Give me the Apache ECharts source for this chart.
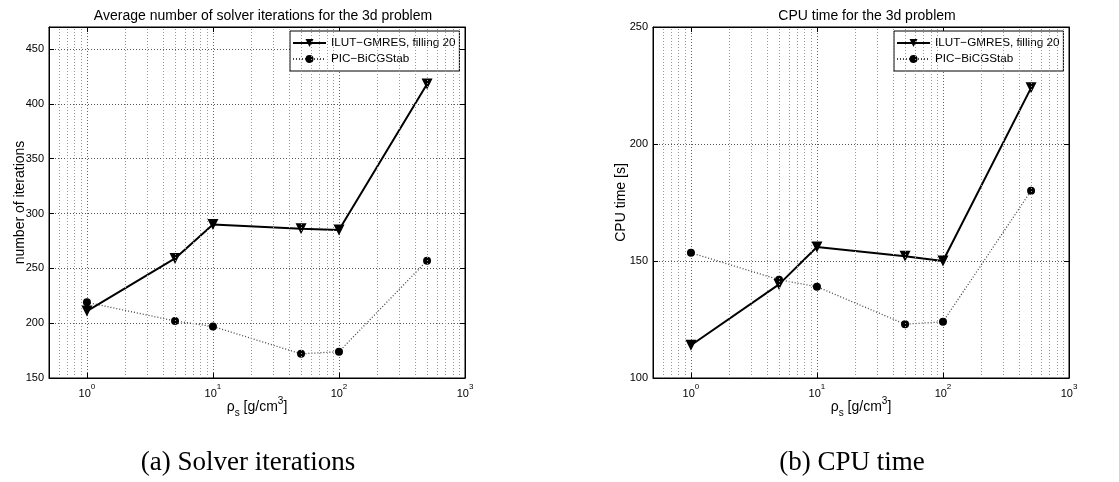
<!DOCTYPE html>
<html>
<head>
<meta charset="utf-8">
<script src="https://cdn.jsdelivr.net/npm/echarts@6/dist/echarts.min.js"></script>
<style>
  html, body { margin: 0; padding: 0; background: #fff; }
  #chart { width: 1119px; height: 482px; }
</style>
</head>
<body>
<div id="chart"></div>
<script>
// Density values rho_s [g/cm^3]
const densities = [1, 5, 10, 50, 100, 500];

// Average number of solver iterations
const iterIlut = [211, 259, 290, 286, 285, 418];
const iterPic = [219, 202, 197, 172, 174, 257];

// CPU time in seconds
const cpuIlut = [114, 140, 156, 152, 150, 224];
const cpuPic = [153.5, 142, 139, 123, 124, 180];

// Intermediate log grid lines (2..9 of each decade)
const minorGridX = [0.6, 0.7, 0.8, 0.9,
  2, 3, 4, 5, 6, 7, 8, 9,
  20, 30, 40, 50, 60, 70, 80, 90,
  200, 300, 400, 500, 600, 700, 800, 900];

const seriesNames = ['ILUT\u2212GMRES, filling 20', 'PIC\u2212BiCGStab'];
const titles = ['Average number of solver iterations for the 3d problem', 'CPU time for the 3d problem'];
const yNames = ['number of iterations', 'CPU time [s]'];
const captions = ['(a) Solver iterations', '(b) CPU time'];

const FONT = '"Liberation Sans", Arial, Helvetica, sans-serif';
const SERIF = '"Liberation Serif", "Times New Roman", serif';

const panels = [
  { left: 49, width: 416, yMin: 150, yMax: 470, yStep: 50, ilut: iterIlut, pic: iterPic, nameGap: 22 },
  { left: 653, width: 416, yMin: 100, yMax: 250, yStep: 50, ilut: cpuIlut, pic: cpuPic, nameGap: 25 }
];
const TOP = 27, HEIGHT = 351;

function pairs(xs, ys) { return xs.map((x, i) => [x, ys[i]]); }

function isDecade(v) {
  const e = Math.log10(v);
  return Math.abs(e - Math.round(e)) < 1e-9;
}

const grids = [], xAxes = [], yAxes = [], series = [], legends = [], titleList = [], graphics = [];

panels.forEach((p, i) => {
  grids.push({
    left: p.left, top: TOP, width: p.width, height: HEIGHT,
    show: true, borderColor: '#000', borderWidth: 1, backgroundColor: '#fff'
  });

  const baseX = {
    type: 'log', logBase: 10, min: 0.5, max: 1000, gridIndex: i,
    axisLine: { show: true, lineStyle: { color: '#000', width: 1 } },
    axisTick: { show: true, inside: true, length: 5, lineStyle: { color: '#000' } },
    splitLine: { show: false }
  };
  // bottom axis with labels and decade grid lines
  xAxes.push(Object.assign({}, baseX, {
    position: 'bottom',
    splitLine: { show: true, lineStyle: { color: '#666', type: [1, 2], width: 1 } },
    axisLabel: {
      margin: 5,
      formatter: v => isDecade(v) ? '{b|10}{s|' + Math.round(Math.log10(v)) + '}' : '',
      rich: {
        b: { fontSize: 11, fontFamily: FONT, color: '#000', lineHeight: 16, verticalAlign: 'bottom' },
        s: { fontSize: 8, fontFamily: FONT, color: '#000', lineHeight: 16, verticalAlign: 'top' }
      }
    },
    name: '{a|\u03c1}{sub|s}{a| [g/cm}{sup|3}{a|]}',
    nameLocation: 'middle', nameGap: 18, nameMoveOverlap: false,
    nameTextStyle: {
      rich: {
        a: { fontSize: 14, fontFamily: FONT, color: '#000', lineHeight: 22 },
        sub: { fontSize: 10, fontFamily: FONT, color: '#000', lineHeight: 13, verticalAlign: 'bottom' },
        sup: { fontSize: 10, fontFamily: FONT, color: '#000', lineHeight: 13, verticalAlign: 'top' }
      }
    }
  }));
  // top mirror axis for tick marks
  xAxes.push(Object.assign({}, baseX, { position: 'top', axisLabel: { show: false } }));

  const baseY = {
    type: 'value', min: p.yMin, max: p.yMax, interval: p.yStep, gridIndex: i,
    axisLine: { show: true, lineStyle: { color: '#000', width: 1 } },
    axisTick: { show: true, inside: true, length: 5, lineStyle: { color: '#000' } },
    splitLine: { show: false }
  };
  yAxes.push(Object.assign({}, baseY, {
    position: 'left',
    splitLine: { show: true, lineStyle: { color: '#555', type: [1, 2], width: 1 } },
    axisLabel: {
      margin: 5, fontSize: 11, fontFamily: FONT, color: '#000',
      formatter: v => (v % p.yStep === 0 ? String(v) : '')
    },
    name: yNames[i], nameLocation: 'middle', nameGap: p.nameGap, nameMoveOverlap: false,
    nameTextStyle: { fontSize: 14, fontFamily: FONT, color: '#000' }
  }));
  yAxes.push(Object.assign({}, baseY, { position: 'right', axisLabel: { show: false } }));

  const xb = i * 2, yl = i * 2;

  // intermediate vertical grid lines of the log scale
  series.push({
    type: 'line', xAxisIndex: xb, yAxisIndex: yl, data: [], z: 1, silent: true,
    markLine: {
      silent: true, symbol: 'none', animation: false,
      label: { show: false },
      lineStyle: { color: '#999', type: [1, 2], width: 1 },
      data: minorGridX.map(v => ({ xAxis: v }))
    }
  });

  series.push({
    name: seriesNames[0], type: 'line', xAxisIndex: xb, yAxisIndex: yl, z: 4,
    data: pairs(densities, p.ilut),
    symbol: 'triangle', symbolRotate: 180, symbolSize: 11, showAllSymbol: true,
    lineStyle: { color: '#000', width: 2, type: 'solid' },
    itemStyle: { color: '#000' },
    animation: false
  });
  series.push({
    name: seriesNames[1], type: 'line', xAxisIndex: xb, yAxisIndex: yl, z: 3,
    data: pairs(densities, p.pic),
    symbol: 'circle', symbolSize: 8, showAllSymbol: true,
    lineStyle: { color: '#444', width: 1.3, type: [1, 2] },
    itemStyle: { color: '#000' },
    animation: false
  });

  legends.push({
    data: seriesNames.map(n => ({ name: n })),
    orient: 'vertical', left: p.left + 241, top: 31,
    backgroundColor: '#fff', borderColor: '#000', borderWidth: 1, borderRadius: 0,
    padding: [6, 4, 6, 2],
    itemWidth: 33, itemHeight: 10, itemGap: 4,
    textStyle: { fontSize: 11.7, fontFamily: FONT, color: '#000' },
    selectedMode: false
  });

  titleList.push({
    text: titles[i], left: p.left + p.width / 2 + 1, top: 4, textAlign: 'center',
    textStyle: { fontSize: 14, fontWeight: 'normal', fontFamily: FONT, color: '#000' }
  });
});

// sub-figure captions
graphics.push({
  type: 'text', x: 248, y: 463,
  style: { text: captions[0], font: '27px ' + SERIF, fill: '#000', align: 'center', verticalAlign: 'middle' }
});
graphics.push({
  type: 'text', x: 852, y: 463,
  style: { text: captions[1], font: '27px ' + SERIF, fill: '#000', align: 'center', verticalAlign: 'middle' }
});

const chart = echarts.init(document.getElementById('chart'), null, { renderer: 'canvas' });
chart.setOption({
  backgroundColor: '#fff',
  animation: false,
  title: titleList,
  grid: grids,
  xAxis: xAxes,
  yAxis: yAxes,
  legend: legends,
  series: series,
  graphic: graphics
});
</script>
</body>
</html>
